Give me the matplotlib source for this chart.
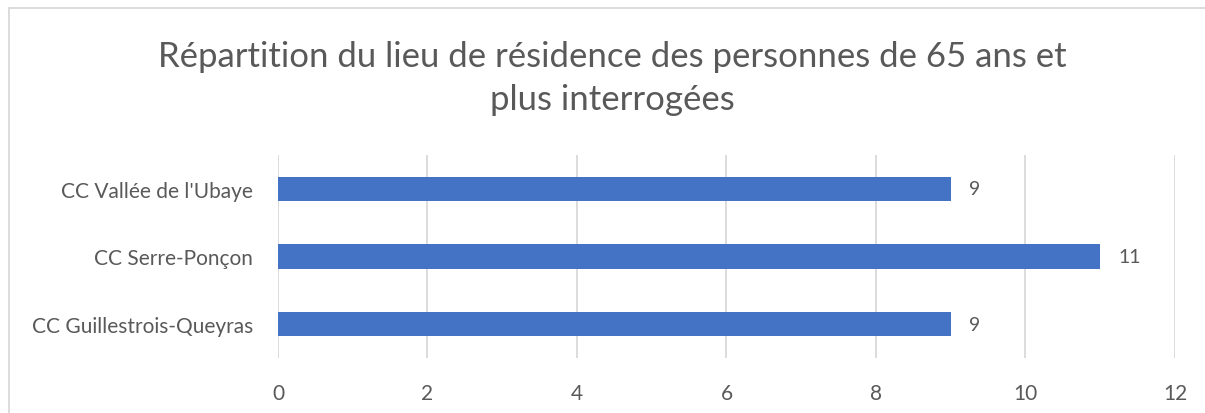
import matplotlib.pyplot as plt
from matplotlib.lines import Line2D

# donnees
communes = ["CC Guillestrois-Queyras", "CC Serre-Ponçon", "CC Vallée de l'Ubaye"]
nombres = [9, 11, 9]
graduations = [0, 2, 4, 6, 8, 10, 12]
titre = "Répartition du lieu de résidence des personnes de 65 ans et\nplus interrogées"

gris = '#595959'
bleu = '#4472C4'

plt.rcParams['font.family'] = ['Lato', 'DejaVu Sans']

fig = plt.figure(figsize=(12.05, 4.14), dpi=100)
ax = fig.add_axes([0.2307, 0.1329, 0.7444, 0.4903])

pos = range(len(communes))
ax.barh(pos, nombres, height=0.36, color=bleu, zorder=3)
for p, n in zip(pos, nombres):
    ax.annotate(str(n), (n, p), xytext=(13, 0), textcoords='offset points',
                va='center', ha='left', fontsize=14, color=gris)

ax.set_xlim(0, 12)
ax.set_ylim(-0.5, 2.5)
ax.set_xticks(graduations)
ax.set_yticks(list(pos))
ax.set_yticklabels(communes)
ax.tick_params(axis='x', length=0, pad=18, labelsize=15, labelcolor=gris)
ax.tick_params(axis='y', length=0, pad=18, labelsize=15, labelcolor=gris)
ax.grid(axis='x', color='#d9d9d9', linewidth=1.3, zorder=0)
for s in ax.spines.values():
    s.set_visible(False)

fig.text(0.508, 0.81, titre, ha='center', va='center', fontsize=25,
         color=gris, linespacing=1.4)

# cadre du graphique (gauche et haut seulement, le reste est coupe)
fig.add_artist(Line2D([0.0075, 0.0075], [0, 0.978], color='#d9d9d9', lw=1.3))
fig.add_artist(Line2D([0.0075, 1], [0.978, 0.978], color='#d9d9d9', lw=1.3))

fig.savefig('out.png', dpi=100)
